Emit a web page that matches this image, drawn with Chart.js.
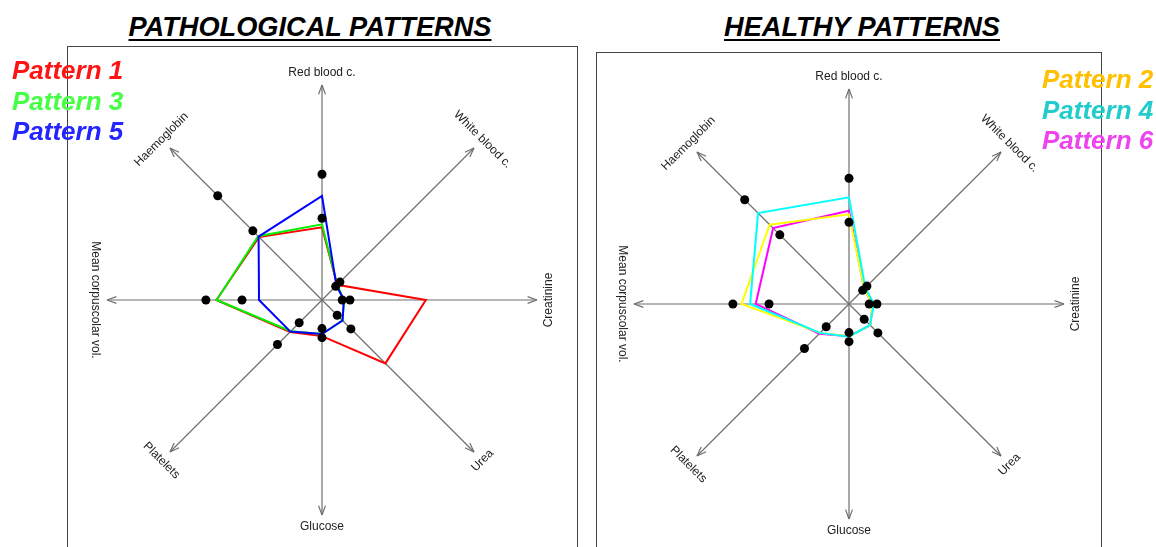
<!DOCTYPE html>
<html>
<head>
<meta charset="utf-8">
<script src="https://cdn.jsdelivr.net/npm/chart.js@4.4.1/dist/chart.umd.min.js"></script>
<style>
  html, body { margin: 0; padding: 0; background: #fff; }
  body { width: 1156px; height: 547px; position: relative; overflow: hidden; font-family: "Liberation Sans", Arial, sans-serif; }
  .title { position: absolute; top: 13px; font-size: 27.2px; font-weight: bold; font-style: italic; line-height: 1;
           text-decoration: underline; text-decoration-thickness: 2px; text-underline-offset: 3px;
           white-space: nowrap; transform: translateX(-50%); color: #000; }
  .box { position: absolute; border: 1px solid #444; box-sizing: border-box; }
  canvas { position: absolute; }
  .legend { position: absolute; font-size: 26px; font-weight: bold; font-style: italic; line-height: 30.5px; white-space: nowrap; z-index: 5; }
</style>
</head>
<body>
<div class="title" style="left:310px">PATHOLOGICAL PATTERNS</div>
<div class="title" style="left:862px">HEALTHY PATTERNS</div>

<div class="box" style="left:67px; top:46px; width:511px; height:520px"></div>
<div class="box" style="left:596px; top:52px; width:506px; height:520px"></div>

<canvas id="pathChart" width="510" height="510" style="left:67px; top:46px"></canvas>
<canvas id="healthChart" width="506" height="506" style="left:596px; top:52px"></canvas>

<div class="legend" style="left:12px; top:55px">
  <div style="color:#ff1414">Pattern 1</div>
  <div style="color:#44ff44">Pattern 3</div>
  <div style="color:#2424ff">Pattern 5</div>
</div>
<div class="legend" style="left:1042px; top:64px">
  <div style="color:#ffc000">Pattern 2</div>
  <div style="color:#22cccc">Pattern 4</div>
  <div style="color:#ee44ee">Pattern 6</div>
</div>

<script>
// --- Data (values as a fraction of each axis' length, clockwise from the top) ---
const axisLabels = ['Red blood c.', 'White blood c.', 'Creatinine', 'Urea', 'Glucose', 'Platelets', 'Mean corpuscolar vol.', 'Haemoglobin'];

// reference dots (the two black markers on every axis)
const refInner = [0.38, 0.09, 0.094, 0.10, 0.133, 0.15, 0.372, 0.455];
const refOuter = [0.585, 0.118, 0.13, 0.19, 0.175, 0.293, 0.54, 0.686];

// pathological patterns
const pattern1 = [0.338, 0.10, 0.483, 0.417, 0.168, 0.21, 0.491, 0.414];
const pattern3 = [0.352, 0.10, 0.102, 0.135, 0.158, 0.205, 0.49, 0.42];
const pattern5 = [0.484, 0.095, 0.102, 0.135, 0.158, 0.208, 0.293, 0.417];

// healthy patterns
const pattern2 = [0.417, 0.10, 0.11, 0.14, 0.15, 0.19, 0.50, 0.522];
const pattern4 = [0.496, 0.107, 0.116, 0.138, 0.152, 0.19, 0.46, 0.598];
const pattern6 = [0.434, 0.10, 0.11, 0.14, 0.15, 0.195, 0.434, 0.499];

const AXIS_COLOR = '#6e6e6e';
const RADIUS = 215;
const HEAD_LEN = 10;
const HEAD_ANGLE = 20 * Math.PI / 180;

// draws the open arrowheads and the rotated axis names
const axisDecor = {
    id: 'axisDecor',
    afterDraw(chart) {
        const scale = chart.scales.r;
        const ctx = chart.ctx;
        const R = scale.drawingArea;
        ctx.save();
        ctx.strokeStyle = AXIS_COLOR;
        ctx.lineWidth = 1.2;
        ctx.fillStyle = '#222';
        ctx.font = '12px "Liberation Sans", Arial, sans-serif';
        ctx.textAlign = 'center';
        ctx.textBaseline = 'middle';
        chart.data.labels.forEach((label, i) => {
            const tip = scale.getPointPosition(i, R);
            const a = tip.angle;
            ctx.beginPath();
            [-1, 1].forEach(s => {
                ctx.moveTo(tip.x, tip.y);
                ctx.lineTo(tip.x - HEAD_LEN * Math.cos(a + s * HEAD_ANGLE), tip.y - HEAD_LEN * Math.sin(a + s * HEAD_ANGLE));
            });
            ctx.stroke();

            const p = scale.getPointPosition(i, R + 12);
            let rot = a - Math.PI / 2;
            while (rot > Math.PI / 2 + 1e-6) rot -= Math.PI;
            while (rot < -Math.PI / 2 - 1e-6) rot += Math.PI;
            ctx.save();
            ctx.translate(p.x, p.y);
            ctx.rotate(rot);
            ctx.fillText(label, 0, 0);
            ctx.restore();
        });
        ctx.restore();
    }
};

function dotsDataset(values) {
    return {
        data: values,
        showLine: false,
        fill: false,
        borderWidth: 0,
        borderColor: 'transparent',
        backgroundColor: 'transparent',
        pointRadius: 4.5,
        pointBackgroundColor: '#000',
        pointBorderColor: '#000',
        pointBorderWidth: 0,
        order: 0
    };
}

function patternDataset(values, color, order) {
    return {
        data: values,
        borderColor: color,
        borderWidth: 2,
        backgroundColor: 'transparent',
        fill: false,
        pointRadius: 0,
        tension: 0,
        order: order
    };
}

function buildRadar(canvasId, patterns, center) {
    const canvas = document.getElementById(canvasId);
    const w = canvas.width, h = canvas.height;
    return new Chart(canvas, {
        type: 'radar',
        data: {
            labels: axisLabels,
            datasets: [
                dotsDataset(refInner),
                dotsDataset(refOuter),
                ...patterns.map(p => patternDataset(p.values, p.color, p.order))
            ]
        },
        options: {
            responsive: false,
            animation: false,
            devicePixelRatio: 1,
            layout: {
                padding: {
                    left: center.x - RADIUS,
                    right: w - center.x - RADIUS,
                    top: center.y - RADIUS,
                    bottom: h - center.y - RADIUS
                }
            },
            plugins: {
                legend: { display: false },
                tooltip: { enabled: false }
            },
            scales: {
                r: {
                    min: 0,
                    max: 1,
                    startAngle: 0,
                    ticks: { display: false },
                    grid: { display: false },
                    pointLabels: { display: false },
                    angleLines: { display: true, color: AXIS_COLOR, lineWidth: 1.2 }
                }
            }
        },
        plugins: [axisDecor]
    });
}

buildRadar('pathChart', [
    { values: pattern1, color: '#ff0000', order: 3 },
    { values: pattern3, color: '#00f000', order: 2 },
    { values: pattern5, color: '#0000ff', order: 1 }
], { x: 255, y: 254 });

buildRadar('healthChart', [
    { values: pattern6, color: '#ff00ff', order: 3 },
    { values: pattern2, color: '#ffff00', order: 2 },
    { values: pattern4, color: '#00ffff', order: 1 }
], { x: 253, y: 252 });
</script>
</body>
</html>
